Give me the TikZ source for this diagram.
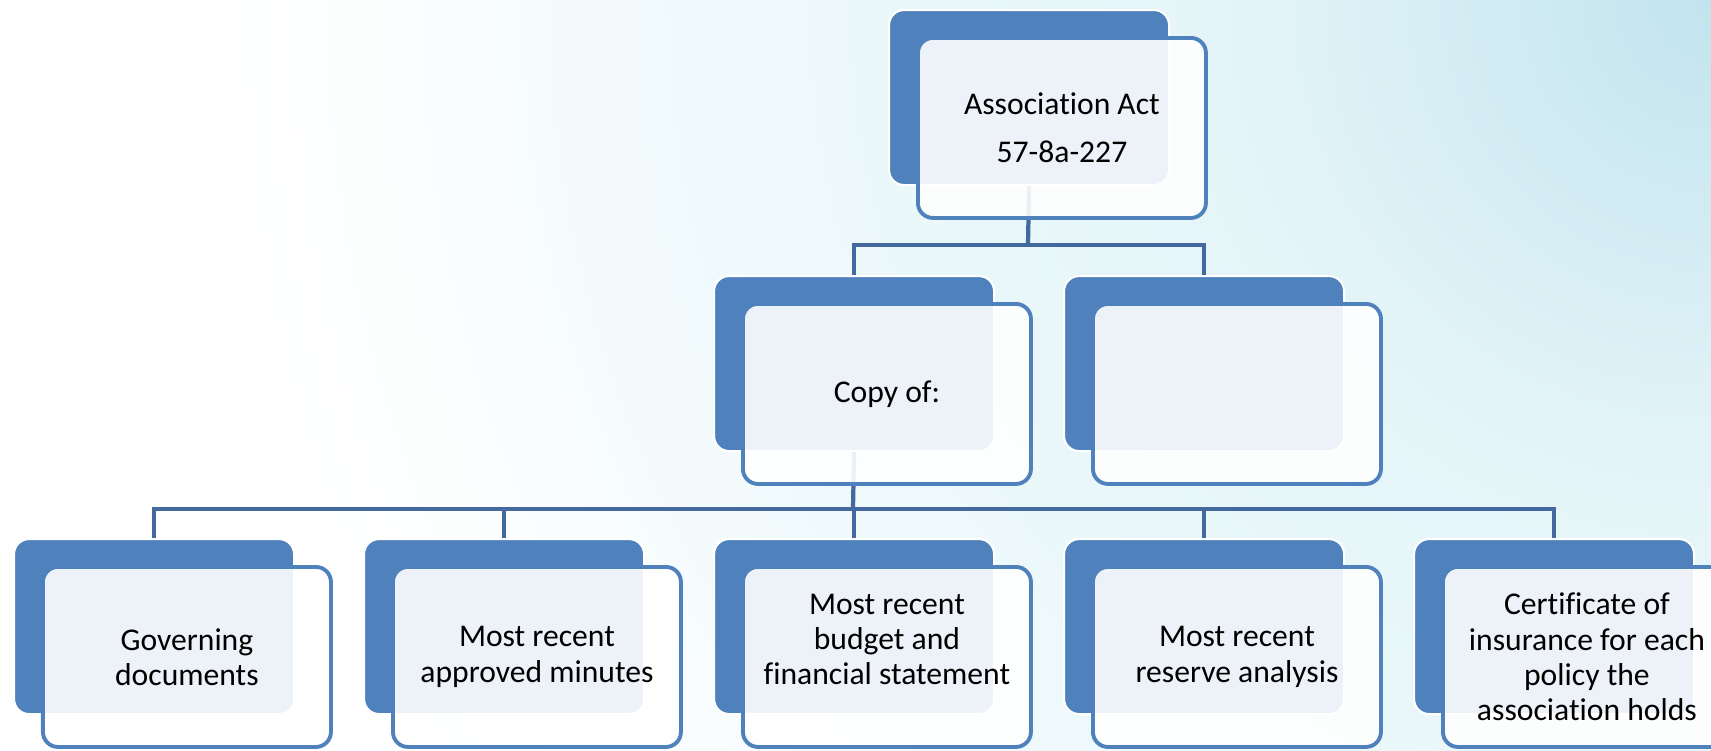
\documentclass[tikz,border=0pt]{standalone}
\usepackage{fontspec}
\setmainfont{Carlito}[Ligatures=NoCommon]
\usetikzlibrary{positioning}
\definecolor{accblue}{HTML}{4F81BD}
\definecolor{linkblue}{HTML}{44699E}
\definecolor{glowa}{HTML}{C2E4EE}
\definecolor{glowb}{HTML}{E3F4F8}
\definecolor{glowc}{HTML}{EBF8FA}
\definecolor{glowd}{HTML}{F1FAFC}
\definecolor{glowe}{HTML}{FAFDFE}
\pgfdeclareradialshading{glow}{\pgfpoint{0bp}{0bp}}{color(0bp)=(glowa); color(5.1bp)=(glowb); color(9.4bp)=(glowc); color(11.8bp)=(glowd); color(14.1bp)=(glowe); color(16.6bp)=(white); color(50bp)=(white)}

\begin{document}
\begin{tikzpicture}[
    back/.style={draw=white, line width=1.2pt, fill=accblue, rounded corners=0.3cm,
      minimum width=5.6cm, minimum height=3.5cm, inner sep=0pt, anchor=north west},
    front/.style={draw=accblue, line width=2.2pt, fill=white, fill opacity=0.9,
      text opacity=1, rounded corners=0.3cm, minimum width=5.76cm,
      minimum height=3.6cm, inner sep=0pt, align=center,
      font=\fontsize{18}{20}\selectfont},
    link/.style={draw=linkblue, line width=2.4pt}]
      \useasboundingbox (0,0) rectangle (34.22,-15);
      \begin{scope}
        \clip (0,0) rectangle (34.22,-15);
        \shade [shading=glow] (34.22,0) circle (45);
      \end{scope}

      % back plates
      \node [back, name=act0] at (17.76,-0.18) {};
      \node [back, name=copy0] at (14.26,-5.5) {};
      \node [back, name=blank0] at (21.26,-5.5) {};
      \foreach \n [count=\i from 0] in {gov,mins,fin,res,ins}
        \node [back, name=\n0] at (0.26+7*\i,-10.76) {};

      \coordinate (bus1) at (20.56,-4.9);
      \coordinate (bus2) at (17.06,-10.18);
      \draw [link] (act0.south) -- (bus1);
      \draw [link] (copy0.north) |- (bus1) -| (blank0.north);
      \draw [link] (copy0.south) -- (bus2);
      \draw [link] (gov0.north) |- (bus2) -| (ins0.north);
      \foreach \n in {mins,fin,res}
        \draw [link] (\n0.north) -- (\n0.north |- bus2);

      % front cards
      \node [front, name=act, below right=0.54cm and 0.56cm of act0.north west]
      {Association Act\\[7pt]57-8a-227};
      \node [front, name=copy, below right=0.54cm and 0.56cm of copy0.north west] {Copy of:};
      \node [front, name=blank, below right=0.54cm and 0.56cm of blank0.north west] {};
      \node [front, name=gov, below right=0.54cm and 0.56cm of gov0.north west]
      {Governing\\documents};
      \node [front, name=mins, below right=0.54cm and 0.56cm of mins0.north west]
      {Most recent\\approved minutes};
      \node [front, name=fin, below right=0.54cm and 0.56cm of fin0.north west]
      {Most recent\\budget and\\financial statement\\\mbox{}};
      \node [front, name=res, below right=0.54cm and 0.56cm of res0.north west]
      {Most recent\\reserve analysis};
      \node [front, name=ins, below right=0.54cm and 0.56cm of ins0.north west]
      {Certificate of\\insurance for each\\policy the\\association holds};
    \end{tikzpicture}
\end{document}
